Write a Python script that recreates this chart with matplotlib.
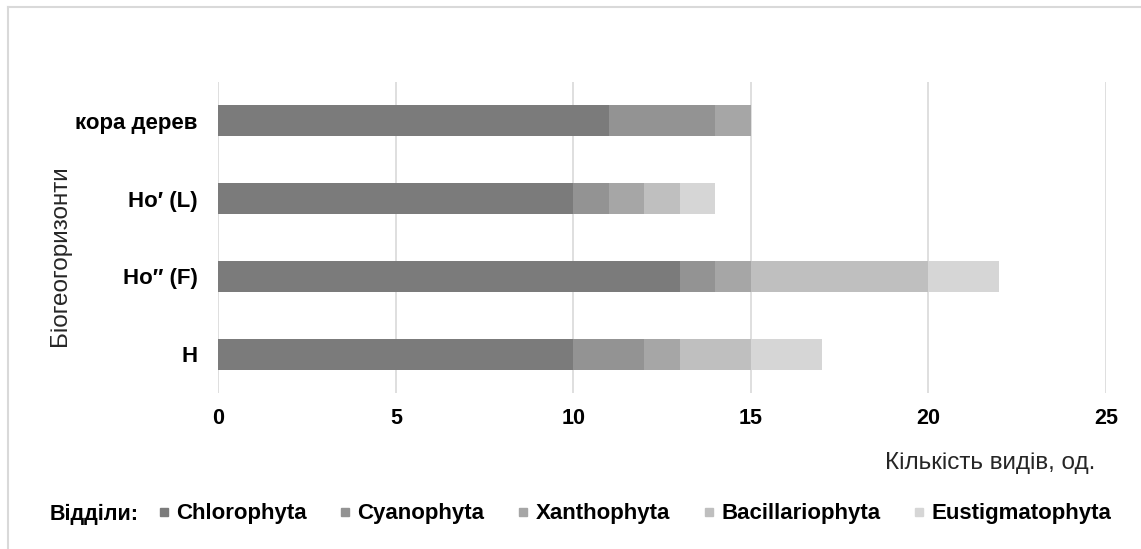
import numpy as np
import matplotlib.pyplot as plt
from matplotlib.lines import Line2D

plt.rcParams['font.family'] = ['Liberation Sans', 'DejaVu Sans']

# biogeohorizons, bottom to top
horizons = ["H", "Ho\u2033 (F)", "Ho\u2032 (L)", "кора дерев"]
divisions = ["Chlorophyta", "Cyanophyta", "Xanthophyta", "Bacillariophyta", "Eustigmatophyta"]

chlorophyta = [10, 13, 10, 11]
cyanophyta = [2, 1, 1, 3]
xanthophyta = [1, 1, 1, 1]
bacillariophyta = [2, 5, 1, 0]
eustigmatophyta = [2, 2, 1, 0]

colors = ["#7b7b7b", "#939393", "#a6a6a6", "#bfbfbf", "#d6d6d6"]

fig = plt.figure(figsize=(11.41, 5.49), dpi=100)
ax = fig.add_axes([218.3 / 1141, 1 - 393 / 549, (1106 - 218.3) / 1141, (393 - 82) / 549])

y = np.arange(len(horizons))
left = np.zeros(len(horizons))
for vals, name, c in zip([chlorophyta, cyanophyta, xanthophyta, bacillariophyta, eustigmatophyta],
                         divisions, colors):
    ax.barh(y, vals, height=0.4, left=left, color=c, label=name, zorder=3)
    left += np.array(vals)

ax.set_xlim(0, 25)
ax.set_ylim(-0.5, 3.5)
ax.set_xticks(np.arange(0, 26, 5))
ax.set_yticks(y)
ax.set_yticklabels(horizons, fontweight='bold', fontsize=16)
for lab in ax.get_xticklabels():
    lab.set_fontweight('bold')
    lab.set_fontsize(15.5)
ax.tick_params(length=0, pad=11)
ax.tick_params(axis='y', pad=15)
ax.xaxis.grid(True, color='#d9d9d9', linewidth=1.2, zorder=0)
for s in ax.spines.values():
    s.set_visible(False)

fig.text(60 / 1141, 1 - 256 / 549, "Біогеогоризонти", rotation=90, fontsize=17.5,
         ha='center', va='center', color='#262626')
fig.text(1095 / 1141, 1 - 463 / 549, "Кількість видів, од.", fontsize=17.5,
         ha='right', va='center', color='#262626')

# legend row
fig.text(50 / 1141, 1 - 514 / 549, "Відділи:", fontsize=15.5, fontweight='bold',
         ha='left', va='center')
handles = [Line2D([], [], marker='s', linestyle='none', markersize=6,
                  markerfacecolor=c, markeredgecolor=c) for c in colors]
leg = fig.legend(handles, divisions, loc='center left', ncol=5,
                 bbox_to_anchor=(158 / 1141, 1 - 514 / 549), frameon=False,
                 handlelength=0.5, handletextpad=0.3, columnspacing=1.5,
                 borderpad=0, borderaxespad=0,
                 prop={'weight': 'bold', 'size': 16})

# outer frame (left and top edges)
fig.add_artist(Line2D([8 / 1141, 8 / 1141], [0, 1 - 7 / 549], color='#d9d9d9', linewidth=1.5,
                      transform=fig.transFigure))
fig.add_artist(Line2D([8 / 1141, 1], [1 - 7 / 549, 1 - 7 / 549], color='#d9d9d9', linewidth=1.5,
                      transform=fig.transFigure))

fig.savefig("out.png", dpi=100)
